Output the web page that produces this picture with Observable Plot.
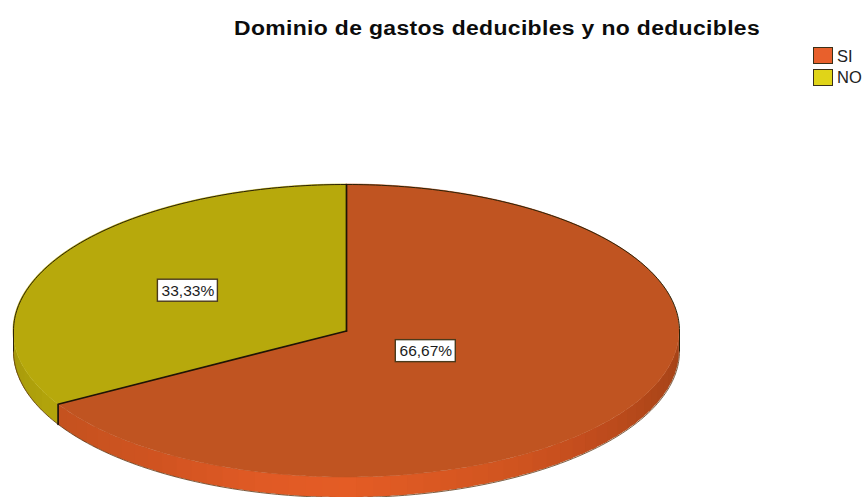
<!DOCTYPE html>
<html lang="es">
<head>
<meta charset="utf-8">
<script src="https://cdn.jsdelivr.net/npm/d3@7"></script>
<script src="https://cdn.jsdelivr.net/npm/@observablehq/plot@0.6"></script>
<style>
  html, body { margin: 0; background: #fff; }
  #chart { position: relative; width: 865px; height: 497px; overflow: hidden; font-family: "Liberation Sans", Arial, sans-serif; }
  #chart svg { position: absolute; left: 0; top: 0; }
  h1 { position: absolute; left: 234px; top: 16px; margin: 0; font-size: 19.5px; font-weight: 700; letter-spacing: 0.3px; line-height: 24px; color: #0c0c0c; white-space: nowrap; z-index: 1; transform: scaleX(1.175); transform-origin: left center; }
  .key { position: absolute; left: 813px; width: 18px; height: 15px; border: 1.5px solid #3a3018; box-sizing: content-box; }
  .keytext { position: absolute; left: 837px; font-size: 16.5px; line-height: 18px; color: #222; z-index: 1; }
</style>
</head>
<body>
<div id="chart"></div>
<script>
// Answers to the survey question
const categories = ["SI", "NO"];
const values = [66.67, 33.33];
const topColors = ["#c05421", "#b7a90c"];
const keyColors = ["#e8602c", "#e0d418"];
// Where each percentage tag sits along its wedge's middle radius
const tagRadius = [0.275, 0.55];

// Shading of the pie's outer wall, by clockwise angle from twelve o'clock
const wallAngles = [[90, 114, 135, 150, 180, 195, 216, 240], [240, 270]];
const wallColors = [
  ["#a34318", "#b04719", "#c34d1e", "#d0541f", "#e45c25", "#e05a25", "#cf5320", "#c4521f"],
  ["#b3a50b", "#a4970b"]
];

const depth = 0.137; // wall height, in units of the vertical radius
const rad = (deg) => (deg * Math.PI) / 180;
const rim = (deg, drop = 0) => ({ x: Math.sin(rad(deg)), y: Math.cos(rad(deg)) - drop });
const arc = (a0, a1, step = 1) => {
  const n = Math.max(1, Math.ceil(Math.abs(a1 - a0) / step));
  return d3.range(n + 1).map((i) => a0 + ((a1 - a0) * i) / n);
};

// Slice extents from the values
const total = d3.sum(values);
let running = 0;
const slices = categories.map((name, i) => {
  const start = running;
  running += (values[i] / total) * 360;
  return { name, i, start, end: running, mid: (start + running) / 2 };
});

// Top face: one area per slice, swept from the centre to the rim
const faces = slices.flatMap((s) =>
  arc(s.start, s.end).map((a) => ({ ...rim(a), name: s.name, color: topColors[s.i] }))
);

// Outer wall: narrow segments between the top and bottom rims, each
// running slightly under its neighbour so that no seam shows
const walls = [];
slices.forEach((s) => {
  const lo = Math.max(s.start, 90);
  const hi = Math.min(s.end, 270);
  if (hi <= lo) return;
  const shade = d3.scaleLinear().domain(wallAngles[s.i]).range(wallColors[s.i]).clamp(true);
  const ticks = arc(lo, hi, 3);
  ticks.slice(0, -1).forEach((a, k) => {
    arc(a, Math.min(ticks[k + 1] + 1, hi), 0.5).forEach((b) => {
      const p = rim(b), q = rim(b, depth);
      walls.push({ x1: p.x, y1: p.y, x2: q.x, y2: q.y, seg: `${s.name}${k}`, color: shade((a + ticks[k + 1]) / 2) });
    });
  });
});

// Outlines: back of the rim, the wall's upright ends, and the slice edges
const outline = [
  ...arc(270, 450).map((a) => ({ ...rim(a), id: "back" })),
  { ...rim(270), id: "left" }, { ...rim(270, depth), id: "left" },
  { ...rim(90), id: "right" }, { ...rim(90, depth), id: "right" }
];
const foot = arc(90, 270).map((a) => rim(a, depth));
const edges = [
  { x: 0, y: 0, id: "a" }, { ...rim(slices[0].start), id: "a" },
  { x: 0, y: 0, id: "b" }, { ...rim(slices[1].start), id: "b" }, { ...rim(slices[1].start, depth), id: "b" }
];

// Percentage tags
const tags = slices.map((s) => {
  const p = rim(s.mid);
  return {
    x: p.x * tagRadius[s.i],
    y: p.y * tagRadius[s.i],
    label: values[s.i].toFixed(2).replace(".", ",") + "%"
  };
});

const plot = Plot.plot({
  width: 865,
  height: 497,
  margin: 0,
  axis: null,
  x: { domain: [-1, 1], range: [13, 679] },
  y: { domain: [1, -1], range: [184, 477] },
  color: { type: "identity" },
  style: { background: "transparent" },
  marks: [
    Plot.area(walls, { x1: "x1", y1: "y1", x2: "x2", y2: "y2", z: "seg", fill: "color" }),
    Plot.area(faces, { x1: () => 0, y1: () => 0, x2: "x", y2: "y", z: "name", fill: "color", stroke: "color", strokeWidth: 0.6 }),
    Plot.line(foot, { x: "x", y: "y", stroke: "#5a3410", strokeWidth: 0.8 }),
    Plot.line(outline, { x: "x", y: "y", z: "id", stroke: "#2b2208", strokeWidth: 1 }),
    Plot.line(edges, { x: "x", y: "y", z: "id", stroke: "#1e1505", strokeWidth: 1.7 }),
    Plot.rect(tags, { x1: "x", x2: "x", y1: "y", y2: "y", insetLeft: -30, insetRight: -30, insetTop: -11, insetBottom: -11, fill: "#fff", stroke: "#4a3a1c", strokeWidth: 1.4 }),
    Plot.text(tags, { x: "x", y: "y", text: "label", fontSize: 15.5, fontFamily: "Liberation Sans", fill: "#1c1c1c" })
  ]
});

const chart = document.getElementById("chart");
chart.append(plot);

const title = document.createElement("h1");
title.textContent = "Dominio de gastos deducibles y no deducibles";
chart.append(title);

// Key in the top right corner
categories.forEach((name, i) => {
  const box = document.createElement("div");
  box.className = "key";
  box.style.top = 47 + i * 21.5 + "px";
  box.style.background = keyColors[i];
  const text = document.createElement("div");
  text.className = "keytext";
  text.style.top = 46.5 + i * 21.5 + "px";
  text.textContent = name;
  chart.append(box, text);
});
</script>
</body>
</html>
